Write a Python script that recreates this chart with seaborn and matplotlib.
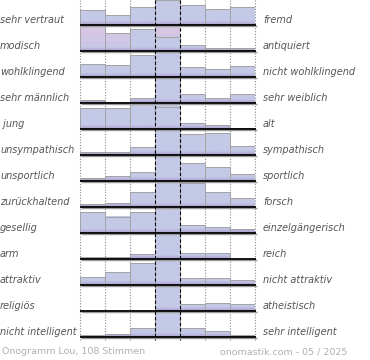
import matplotlib
matplotlib.use("Agg")
import matplotlib.pyplot as plt
import numpy as np
import pandas as pd
import seaborn as sns
from matplotlib.colors import to_rgb

""" Onogramm for the name Lou: one histogram per word pair """

left_labels = ["sehr vertraut", "modisch", "wohlklingend", "sehr männlich", " jung",
               "unsympathisch", "unsportlich", "zurückhaltend", "gesellig", "arm",
               "attraktiv", "religiös", "nicht intelligent"]
right_labels = ["fremd", "antiquiert", "nicht wohlklingend", "sehr weiblich", "alt",
                "sympathisch", "sportlich", "forsch", "einzelgängerisch", "reich",
                "nicht attraktiv", "atheistisch", "sehr intelligent"]

# bar heights per row, 7 steps from left word to right word
sehr_vertraut = [15, 10, 18, 25, 20, 16, 18]
modisch = [25, 18, 22, 14, 6, 3, 3]
wohlklingend = [13, 12, 22, 25, 10, 8, 11]
sehr_maennlich = [3, 1.5, 5.5, 25, 9, 5.5, 9]
jung = [21, 21, 25, 22, 5.5, 4, 1.3]
unsympathisch = [3.3, 3.3, 8.3, 25, 21, 22, 9.3]
unsportlich = [3.3, 5, 9, 25, 18, 14, 7]
zurueckhaltend = [3, 3.7, 15, 25, 24, 15, 9]
gesellig = [21, 16.5, 21, 25, 8, 6, 4]
arm = [2, 2, 5, 25, 6, 6, 0]
attraktiv = [7.7, 12.7, 22, 25, 6.7, 6.7, 5]
religioes = [0, 0, 0, 25, 7, 8, 7.5]
nicht_intelligent = [2, 3, 9, 25, 9, 6, 2]

rows = [sehr_vertraut, modisch, wohlklingend, sehr_maennlich, jung, unsympathisch,
        unsportlich, zurueckhaltend, gesellig, arm, attraktiv, religioes, nicht_intelligent]
steps = [1, 2, 3, 4, 5, 6, 7]

footer_left = "Onogramm Lou, 108 Stimmen"
footer_right = "onomastik.com - 05 / 2025"

# layout in pixels
W, H = 370, 360
X0, BIN = 80, 25
ROW_H = 26
BASE0 = 25
BAR_MAX = 25

sns.set_style("white")
plt.rcParams['font.family'] = ['DejaVu Sans']

BLUE = np.array(to_rgb("#c4c9e7"))
PURPLE = np.array(to_rgb("#a99dcc"))
PINK = np.array(to_rgb("#dcc5e4"))


def gradient(ymax, pink=False):
    n = 120
    ys = np.linspace(0, ymax, n)
    px = ys * BAR_MAX / ymax
    top = np.array([BLUE * (1 - p / BAR_MAX) + PINK * (p / BAR_MAX) for p in px]) if pink else \
        np.tile(BLUE, (n, 1))
    t = np.clip(px / 4.0, 0, 1)[:, None]
    cols = PURPLE * (1 - t) + top * t
    return cols[:, None, :]


fig = plt.figure(figsize=(W / 100, H / 100), dpi=100)

# background axes in pixel units
bg = fig.add_axes([0, 0, 1, 1], zorder=0)
bg.set_xlim(0, W)
bg.set_ylim(H, 0)
bg.axis("off")
for k in range(8):
    if k in (3, 4):
        continue
    bg.plot([X0 + k * BIN, X0 + k * BIN], [0, 340], color="#8a8a8a", lw=0.8, ls=(0, (1, 1.5)))

for i, values in enumerate(rows):
    base = BASE0 + i * ROW_H
    ax = fig.add_axes([X0 / W, (H - base) / H, 7 * BIN / W, BAR_MAX / H], zorder=1)
    ax.patch.set_alpha(0)
    ymax = max(values)
    df = pd.DataFrame({"step": steps, "value": values})
    # light grey behind the neutral middle step
    ax.axvspan(2.5, 3.5, 0, 1, color="#ececec", zorder=0.5, lw=0)
    sns.barplot(data=df, x="step", y="value", ax=ax, width=1.0, color="#c4c9e7",
                edgecolor="#a3a3a3", linewidth=0.7, saturation=1)
    for j, patch in enumerate(ax.patches):
        if patch.get_height() <= 0:
            continue
        pink = (left_labels[i] == "modisch" and j < 3)
        im = ax.imshow(gradient(ymax, pink), extent=(-0.5, 6.5, 0, ymax), origin="lower",
                       aspect="auto", zorder=1.5, interpolation="bilinear")
        im.set_clip_path(patch)
        patch.set_facecolor("none")
        patch.set_zorder(2)
    ax.set_xlim(-0.5, 6.5)
    ax.set_ylim(0, ymax)
    ax.axis("off")

    bg.text(0, base - 5, left_labels[i], fontsize=7, style="italic", color="#555555",
            va="center", ha="left")
    bg.text(263, base - 5, right_labels[i], fontsize=7, style="italic", color="#555555",
            va="center", ha="left")

# overlay: baselines and dashed middle lines
top = fig.add_axes([0, 0, 1, 1], zorder=3)
top.set_xlim(0, W)
top.set_ylim(H, 0)
top.axis("off")
top.patch.set_alpha(0)
for i in range(len(rows)):
    base = BASE0 + i * ROW_H
    top.plot([X0 + 1, X0 + 7 * BIN + 2], [base + 1.3, base + 1.3], color="#9a9a9a", lw=1.0,
             solid_capstyle="butt")
    top.plot([X0, X0 + 7 * BIN + 1], [base, base], color="black", lw=1.3, solid_capstyle="butt")
for k in (3, 4):
    top.plot([X0 + k * BIN, X0 + k * BIN], [0, 340], color="black", lw=0.8, ls=(0, (3, 2)))

top.text(2, 352, footer_left, fontsize=6.8, color="#b0b0b0", va="center", ha="left")
top.text(347, 352, footer_right, fontsize=6.8, color="#b0b0b0", va="center", ha="right")

fig.savefig("out.png", dpi=100)
